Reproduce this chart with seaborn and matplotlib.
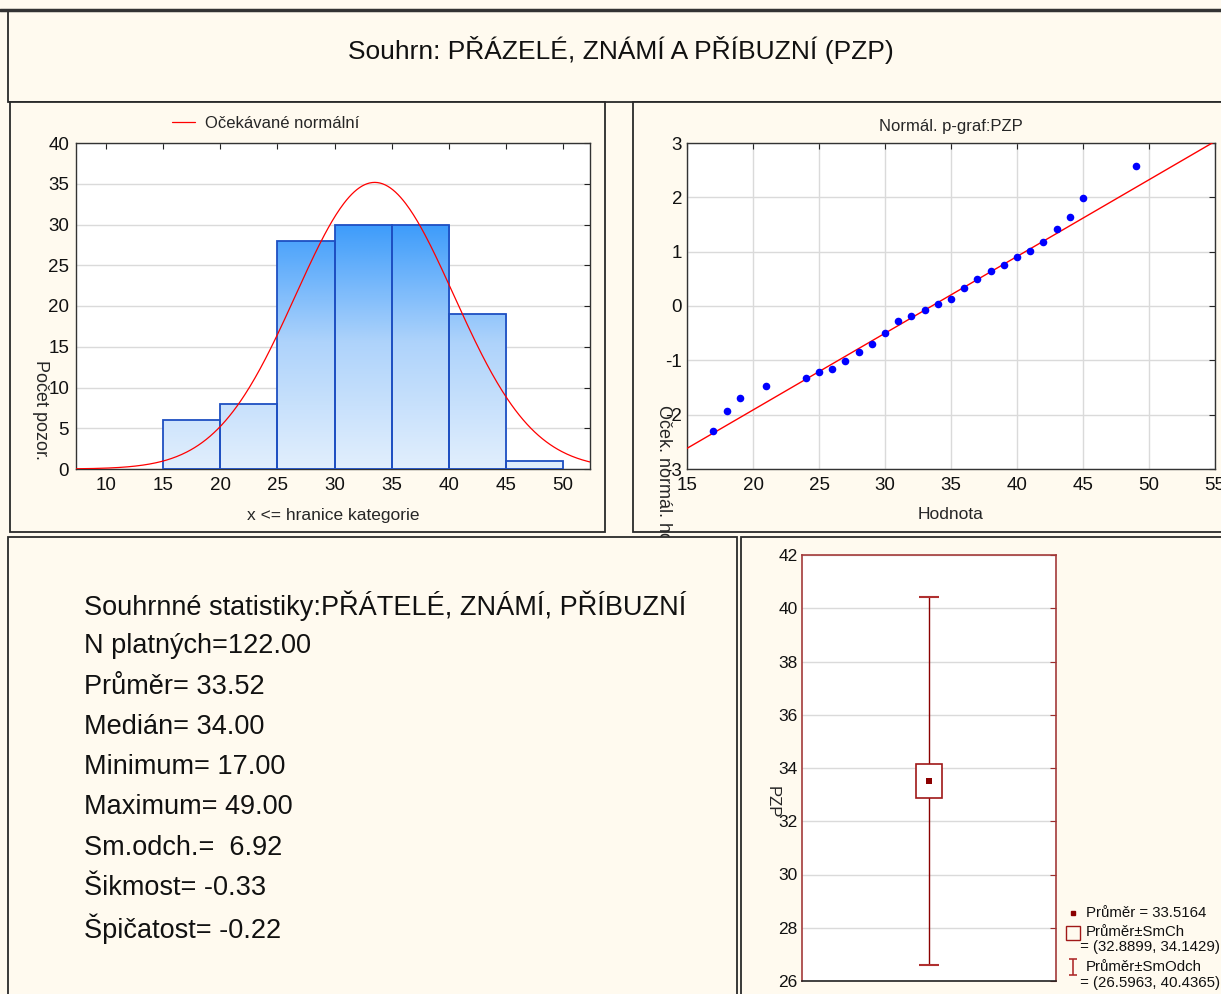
import numpy as np
import matplotlib
matplotlib.use("Agg")
import matplotlib.pyplot as plt
import seaborn as sns
from matplotlib.patches import Rectangle
from matplotlib.lines import Line2D
from matplotlib.colors import LinearSegmentedColormap
from matplotlib.path import Path

# ---------------- data ----------------
title_text = "Souhrn: PŘÁZELÉ, ZNÁMÍ A PŘÍBUZNÍ (PZP)"
bin_edges = [15, 20, 25, 30, 35, 40, 45, 50]
bin_counts = [6, 8, 28, 30, 30, 19, 1]
hist_xticks = [10, 15, 20, 25, 30, 35, 40, 45, 50]
hist_yticks = [0, 5, 10, 15, 20, 25, 30, 35, 40]
n_valid = 122
mean_val = 33.5164
sd_val = 6.92

qq_x = [17, 18, 19, 21, 24, 25, 26, 27, 28, 29, 30, 31, 32, 33, 34, 35, 36,
        37, 38, 39, 40, 41, 42, 43, 44, 45, 49]
qq_z = [-2.30, -1.93, -1.70, -1.48, -1.32, -1.21, -1.16, -1.01, -0.85, -0.70,
        -0.49, -0.28, -0.18, -0.08, 0.03, 0.12, 0.34, 0.49, 0.65, 0.75, 0.90,
        1.01, 1.17, 1.42, 1.63, 1.99, 2.57]
qq_line_x = [15, 55]
qq_line_z = [-2.62, 3.03]
qq_xticks = [15, 20, 25, 30, 35, 40, 45, 50, 55]
qq_yticks = [-3, -2, -1, 0, 1, 2, 3]

stats_lines = ["Souhrnné statistiky:PŘÁTELÉ, ZNÁMÍ, PŘÍBUZNÍ",
               "N platných=122.00",
               "Průměr= 33.52",
               "Medián= 34.00",
               "Minimum= 17.00",
               "Maximum= 49.00",
               "Sm.odch.=  6.92",
               "Šikmost= -0.33",
               "Špičatost= -0.22"]

box_mean = 33.5164
box_se = (32.8899, 34.1429)
box_sd = (26.5963, 40.4365)
box_yticks = [26, 28, 30, 32, 34, 36, 38, 40, 42]
legend_texts = ["Průměr = 33.5164", "Průměr±SmCh", " = (32.8899, 34.1429)",
                "Průměr±SmOdch", " = (26.5963, 40.4365)"]

# ---------------- style ----------------
sns.set_style("white")
plt.rcParams['font.family'] = ['Liberation Sans', 'DejaVu Sans']
plt.rcParams['axes.unicode_minus'] = False
BG = '#FFFAEF'
GRID = '#DADADA'
W, H = 1221, 994

def fx(px):
    return px / W

def fy(py):
    return 1 - py / H

def axrect(x0, y0, x1, y1):
    return [fx(x0), fy(y1), fx(x1) - fx(x0), fy(y0) - fy(y1)]

fig = plt.figure(figsize=(12.21, 9.94), dpi=100, facecolor=BG)

def panel(x0, y0, x1, y1, z):
    r = Rectangle((fx(x0), fy(y1)), fx(x1) - fx(x0), fy(y0) - fy(y1),
                  transform=fig.transFigure, facecolor=BG, edgecolor='#2a2a2a',
                  linewidth=1.3, zorder=z)
    fig.add_artist(r)

panel(8, 10, 1240, 102, -2)
panel(10, 102, 605, 532, -1)
panel(633, 102, 1240, 532, -1)
panel(8, 537, 737, 1010, 0.5)
panel(741, 537, 1240, 1010, 0.5)
fig.add_artist(Line2D([0, 1], [fy(10), fy(10)], transform=fig.transFigure,
                      color='#333333', lw=2.5, zorder=3))

fig.text(fx(621), fy(50), title_text, ha='center', va='center', fontsize=19,
         color='#111111')

# ---------------- histogram ----------------
ax1 = fig.add_axes(axrect(76, 143, 590, 469), zorder=0)
ax1.set_facecolor('white')
centers = [(a + b) / 2 for a, b in zip(bin_edges[:-1], bin_edges[1:])]
sns.histplot(x=centers, weights=bin_counts, bins=bin_edges, ax=ax1,
             element='bars', fill=True, edgecolor='#1E4FC2', linewidth=1.3,
             facecolor='none', alpha=1, zorder=3)
cmap = LinearSegmentedColormap.from_list('g', ['#E2EFFD', '#AED3FB', '#3598FB'])
grad = np.linspace(0, 1, 256).reshape(-1, 1)
for p in ax1.patches:
    p.set_facecolor('none')
    x0 = p.get_x(); w = p.get_width()
    im = ax1.imshow(grad, extent=[x0, x0 + w, 0, 31], origin='lower',
                    aspect='auto', cmap=cmap, zorder=2)
    im.set_clip_path(p)
xs = np.linspace(7.37, 52.36, 400)
bw = bin_edges[1] - bin_edges[0]
ys = n_valid * bw * np.exp(-0.5 * ((xs - mean_val) / sd_val) ** 2) / (sd_val * np.sqrt(2 * np.pi))
sns.lineplot(x=xs, y=ys, ax=ax1, color='#FF0000', linewidth=0.9, zorder=4,
             label='Očekávané normální', legend=False)
ax1.set_xlim(7.37, 52.36)
ax1.set_ylim(0, 40)
ax1.set_xticks(hist_xticks)
ax1.set_yticks(hist_yticks)
ax1.yaxis.grid(True, color=GRID, lw=1)
ax1.xaxis.grid(False)
ax1.set_axisbelow(True)
ax1.tick_params(labelsize=13.5, direction='in', length=4, top=True, right=True,
                bottom=False, left=False, colors='#222222', labelcolor='#111111')
ax1.tick_params(axis='y', pad=5)
ax1.tick_params(axis='x', pad=6)
for s in ax1.spines.values():
    s.set_color('#333333'); s.set_linewidth(1)
ax1.set_xlabel('x <= hranice kategorie', fontsize=12.5, labelpad=10)
ax1.set_ylabel('')
h, l = ax1.get_legend_handles_labels()
fig.legend(h[-1:], l[-1:], loc='center left', bbox_to_anchor=(fx(172), fy(123)),
           frameon=False, fontsize=12, handlelength=1.4, handletextpad=0.6,
           borderaxespad=0, borderpad=0)
fig.text(fx(40), fy(410), 'Počet pozor.', rotation=-90, ha='center',
         va='center', fontsize=13)

# ---------------- normal probability plot ----------------
ax2 = fig.add_axes(axrect(687, 143, 1215, 469), zorder=0)
ax2.set_facecolor('white')
sns.lineplot(x=qq_line_x, y=qq_line_z, ax=ax2, color='#FF0000', linewidth=1,
             zorder=3)
sns.scatterplot(x=qq_x, y=qq_z, ax=ax2, color='#0000FF', s=30, linewidth=0,
                zorder=4)
ax2.set_xlim(15, 55)
ax2.set_ylim(-3, 3)
ax2.set_xticks(qq_xticks)
ax2.set_yticks(qq_yticks)
ax2.grid(True, color=GRID, lw=1)
ax2.set_axisbelow(True)
ax2.tick_params(labelsize=13.5, direction='in', length=4, top=True, right=True,
                bottom=False, left=False, labelcolor='#111111')
ax2.tick_params(axis='x', pad=6)
for s in ax2.spines.values():
    s.set_color('#333333'); s.set_linewidth(1)
ax2.set_xlabel('Hodnota', fontsize=12.5, labelpad=9)
ax2.set_ylabel('')
ax2.set_title('Normál. p-graf:PZP', fontsize=12, pad=9)
fig.text(fx(664), fy(405), 'Oček. normál. hodnota', rotation=-90, ha='center',
         va='top', fontsize=13, zorder=0.2)

# ---------------- stats text ----------------
for i, line in enumerate(stats_lines):
    fig.text(fx(84), fy(606 + i * 40.3), line, ha='left', va='center',
             fontsize=19.5, color='#111111', zorder=2)

# ---------------- mean / SE / SD plot ----------------
ax3 = fig.add_axes(axrect(802, 555, 1056, 981), zorder=1)
ax3.set_facecolor('white')
DR = '#8B0000'
ax3.vlines([0], [box_sd[0]], [box_sd[1]], color=DR, lw=1, zorder=2)
ax3.hlines([box_sd[0], box_sd[1]], [-0.08], [0.08], color='#B03030', lw=1.5,
           zorder=2)
ax3.bar([0], [box_se[1] - box_se[0]], bottom=[box_se[0]], width=0.2,
        facecolor='white', edgecolor='#A01818', linewidth=1.2, zorder=3)
sns.scatterplot(x=[0], y=[box_mean], ax=ax3, color=DR, marker='s', s=22,
                linewidth=0, zorder=4)
ax3.set_xlim(-1, 1)
ax3.set_ylim(26, 42)
ax3.set_yticks(box_yticks)
ax3.set_xticks([])
ax3.yaxis.grid(True, color=GRID, lw=1)
ax3.set_axisbelow(True)
ax3.tick_params(axis='y', labelsize=12.5, direction='in', length=4, right=True,
                left=False, colors='#9B2D2D', labelcolor='#111111', pad=3)
for k, s in ax3.spines.items():
    s.set_color('#A33A3A'); s.set_linewidth(1.2)
ax3.spines['bottom'].set_color('#222222')
ax3.set_ylabel('')
fig.text(fx(772), fy(802), 'PZP', rotation=-90, ha='center', va='center',
         fontsize=12, zorder=2)

# legend (manual)
lx = fx(1073)
fig.add_artist(Line2D([lx], [fy(913)], transform=fig.transFigure, marker='s',
                      markersize=3.5, color=DR, linestyle='none', zorder=3))
fig.add_artist(Line2D([lx], [fy(933)], transform=fig.transFigure, marker='s',
                      markersize=10, markerfacecolor='none',
                      markeredgecolor='#A01818', markeredgewidth=1,
                      linestyle='none', zorder=3))
ibeam = Path([(-0.5, 1), (0.5, 1), (0, 1), (0, -1), (-0.5, -1), (0.5, -1)],
             [Path.MOVETO, Path.LINETO, Path.MOVETO, Path.LINETO, Path.MOVETO,
              Path.LINETO])
fig.add_artist(Line2D([lx], [fy(967)], transform=fig.transFigure, marker=ibeam,
                      markersize=12, color='#B03030', markeredgewidth=1.2,
                      linestyle='none', zorder=3))
leg_pos = [(1086, 913), (1086, 932), (1076, 947), (1086, 967), (1076, 983)]
for (px, py), t in zip(leg_pos, legend_texts):
    fig.text(fx(px), fy(py), t, ha='left', va='center', fontsize=10.8,
             color='#111111', zorder=3)

fig.savefig('out.png', dpi=100, facecolor=BG)
